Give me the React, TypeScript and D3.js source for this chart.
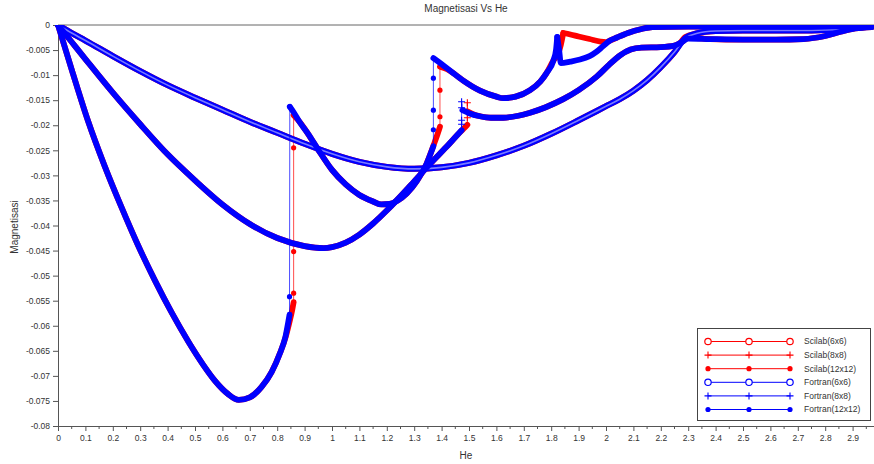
import * as d3 from 'd3';
import React from 'react';

type Pt = [number, number];

const RED = '#ff0000';
const BLUE = '#0000ff';
const FONT = '"Liberation Sans", Arial, sans-serif';

const xTicks = [0, 0.1, 0.2, 0.3, 0.4, 0.5, 0.6, 0.7, 0.8, 0.9, 1, 1.1, 1.2, 1.3, 1.4, 1.5,
  1.6, 1.7, 1.8, 1.9, 2, 2.1, 2.2, 2.3, 2.4, 2.5, 2.6, 2.7, 2.8, 2.9];
const yTicks = [0, -0.005, -0.01, -0.015, -0.02, -0.025, -0.03, -0.035, -0.04, -0.045,
  -0.05, -0.055, -0.06, -0.065, -0.07, -0.075, -0.08];

// Fortran(12x12)
const f12Branch1: Pt[] = [[0, 0], [0.05, -0.0089], [0.11, -0.0192], [0.17, -0.0281], [0.232, -0.0364],
  [0.29, -0.0437], [0.354, -0.051], [0.415, -0.0574], [0.476, -0.0632], [0.53, -0.0678], [0.573, -0.071],
  [0.62, -0.0736], [0.66, -0.0748], [0.7, -0.0743], [0.743, -0.0722], [0.78, -0.0692], [0.81, -0.0655],
  [0.83, -0.0622], [0.845, -0.0578]];
const f12Jump1: Pt[] = [[0.845, -0.0542], [0.846, -0.0163]];
const f12Branch2: Pt[] = [[0.846, -0.0163], [0.86, -0.0174], [0.88, -0.0192], [0.914, -0.0218], [0.95, -0.0249],
  [1.0, -0.0289], [1.05, -0.0318], [1.1, -0.0339], [1.15, -0.0352], [1.18, -0.0358], [1.21, -0.0357],
  [1.24, -0.035], [1.273, -0.0336], [1.31, -0.0311], [1.345, -0.0277], [1.37, -0.0242]];
const f12Jump2: Pt[] = [[1.37, -0.0209], [1.37, -0.017], [1.37, -0.0106]];
const f12Branch3: Pt[] = [[1.37, -0.0066], [1.4, -0.0078], [1.44, -0.0095], [1.479, -0.0111], [1.54, -0.0131],
  [1.6, -0.0143], [1.625, -0.0146], [1.67, -0.0143], [1.723, -0.013], [1.76, -0.0113], [1.783, -0.0096],
  [1.808, -0.0071], [1.818, -0.0048], [1.822, -0.0024]];
const f12Branch4: Pt[] = [[1.822, -0.0024], [1.829, -0.005], [1.835, -0.0076], [1.87, -0.0073], [1.905, -0.0069],
  [1.94, -0.0062], [1.966, -0.0053], [1.99, -0.0042], [2.015, -0.0031], [2.04, -0.0025], [2.08, -0.0016],
  [2.13, -0.0008], [2.17, -0.0004], [2.3, -0.0003], [2.5, -0.0003], [2.7, -0.0003], [2.97, -0.0002]];

// Scilab(12x12)
const s12Branch1: Pt[] = [[0, 0], [0.05, -0.0089], [0.11, -0.0192], [0.17, -0.0281], [0.232, -0.0364],
  [0.29, -0.0437], [0.354, -0.051], [0.415, -0.0574], [0.476, -0.0632], [0.53, -0.0678], [0.573, -0.071],
  [0.62, -0.0736], [0.66, -0.0748], [0.7, -0.0743], [0.743, -0.0722], [0.78, -0.0692], [0.81, -0.0655],
  [0.83, -0.0624], [0.845, -0.0592], [0.855, -0.0568], [0.86, -0.0553]];
const s12Jump1: Pt[] = [[0.86, -0.0535], [0.86, -0.0452], [0.86, -0.0245]];
const s12Branch2: Pt[] = [[0.86, -0.018], [0.875, -0.0189], [0.9, -0.0207], [0.93, -0.0232], [0.95, -0.0249],
  [1.0, -0.0289], [1.05, -0.0318], [1.1, -0.0339], [1.15, -0.0352], [1.18, -0.0358], [1.21, -0.0357],
  [1.24, -0.035], [1.273, -0.0336], [1.31, -0.0311], [1.345, -0.0277], [1.372, -0.0238], [1.385, -0.0218],
  [1.394, -0.0203]];
const s12Jump2: Pt[] = [[1.394, -0.0183], [1.394, -0.013]];
const s12Branch3: Pt[] = [[1.394, -0.0083], [1.42, -0.0088], [1.44, -0.0095], [1.479, -0.0111], [1.54, -0.0131],
  [1.6, -0.0143], [1.625, -0.0146], [1.67, -0.0143], [1.723, -0.013], [1.76, -0.0113], [1.783, -0.0096],
  [1.808, -0.0071], [1.825, -0.0058], [1.835, -0.004], [1.844, -0.0016]];
const s12Branch4: Pt[] = [[1.844, -0.0016], [1.87, -0.0019], [1.9, -0.0023], [1.94, -0.0028], [1.98, -0.0033],
  [2.0, -0.0034], [2.015, -0.0031], [2.04, -0.0025], [2.08, -0.0016], [2.13, -0.0008], [2.17, -0.0004],
  [2.3, -0.0003], [2.5, -0.0003], [2.7, -0.0003], [2.97, -0.0002]];

// Fortran(8x8)
const f8Branch1: Pt[] = [[0, 0], [0.05, -0.0034], [0.1, -0.0068], [0.2, -0.0135], [0.3, -0.0198], [0.4, -0.0258],
  [0.5, -0.031], [0.6, -0.0358], [0.7, -0.0397], [0.8, -0.0425], [0.9, -0.0441], [0.97, -0.0445], [1.0, -0.0443],
  [1.05, -0.0434], [1.1, -0.0418], [1.15, -0.0396], [1.2, -0.037], [1.3, -0.0312], [1.358, -0.0277],
  [1.418, -0.0243], [1.473, -0.021]];
const f8Jump1: Pt[] = [[1.473, -0.0198], [1.473, -0.019], [1.473, -0.0165], [1.473, -0.0153]];
const f8Branch2: Pt[] = [[1.476, -0.017], [1.5, -0.0176], [1.54, -0.0182], [1.58, -0.0185], [1.625, -0.0185],
  [1.68, -0.0181], [1.723, -0.0175], [1.78, -0.0164], [1.844, -0.0148], [1.9, -0.013], [1.966, -0.0103],
  [2.01, -0.008], [2.05, -0.0061], [2.09, -0.0049], [2.13, -0.0045], [2.2, -0.0044], [2.25, -0.0041],
  [2.28, -0.0033], [2.3, -0.0027], [2.38, -0.0028], [2.5, -0.0029], [2.62, -0.0029], [2.72, -0.0028],
  [2.8, -0.0022], [2.86, -0.0013], [2.91, -0.0007], [2.97, -0.0004]];

// Scilab(8x8)
const s8Branch1: Pt[] = [[0, 0], [0.05, -0.0034], [0.1, -0.0068], [0.2, -0.0135], [0.3, -0.0198], [0.4, -0.0258],
  [0.5, -0.031], [0.6, -0.0358], [0.7, -0.0397], [0.8, -0.0425], [0.9, -0.0441], [0.97, -0.0445], [1.0, -0.0443],
  [1.05, -0.0434], [1.1, -0.0418], [1.15, -0.0396], [1.2, -0.037], [1.3, -0.0312], [1.358, -0.0277],
  [1.418, -0.0243], [1.46, -0.0218], [1.48, -0.0207], [1.494, -0.0199]];
const s8Jump1: Pt[] = [[1.494, -0.0185], [1.494, -0.0155]];
const s8Branch2: Pt[] = [[1.494, -0.0172], [1.52, -0.0179], [1.54, -0.0182], [1.58, -0.0185], [1.625, -0.0185],
  [1.68, -0.0181], [1.723, -0.0175], [1.78, -0.0164], [1.844, -0.0148], [1.9, -0.013], [1.966, -0.0103],
  [2.01, -0.008], [2.05, -0.0061], [2.09, -0.0049], [2.13, -0.0045], [2.2, -0.0044], [2.25, -0.0041],
  [2.28, -0.0033], [2.3, -0.0025], [2.38, -0.0028], [2.5, -0.0029], [2.62, -0.0029], [2.72, -0.0028],
  [2.8, -0.0022], [2.86, -0.0013], [2.91, -0.0007], [2.97, -0.0004]];

// Fortran(6x6), Scilab(6x6) lies under it
const f6Branch: Pt[] = [[0, 0], [0.05, -0.0016], [0.1, -0.0031], [0.2, -0.0062], [0.3, -0.0092], [0.4, -0.012],
  [0.5, -0.0145], [0.6, -0.0169], [0.7, -0.0193], [0.8, -0.0215], [0.9, -0.0237], [1.0, -0.0257], [1.1, -0.0273],
  [1.2, -0.0283], [1.3, -0.0287], [1.4, -0.0284], [1.5, -0.0275], [1.6, -0.026], [1.7, -0.0241], [1.8, -0.0217],
  [1.9, -0.019], [2.0, -0.0162], [2.05, -0.0148], [2.1, -0.0131], [2.15, -0.011], [2.2, -0.0084],
  [2.25, -0.0054], [2.29, -0.0026], [2.33, -0.0017], [2.4, -0.0012], [2.5, -0.0011], [2.6, -0.0011],
  [2.7, -0.0011], [2.8, -0.001], [2.87, -0.0008], [2.92, -0.0005], [2.97, -0.0003]];
const s6Branch: Pt[] = [[0, 0], [0.05, -0.0016], [0.1, -0.0031], [0.2, -0.0062], [0.3, -0.0092], [0.4, -0.012],
  [0.5, -0.0145], [0.6, -0.0169], [0.7, -0.0193], [0.8, -0.0215], [0.9, -0.0237], [1.0, -0.0257], [1.1, -0.0273],
  [1.2, -0.0283], [1.3, -0.0287], [1.4, -0.0284], [1.5, -0.0275], [1.6, -0.026], [1.7, -0.0241], [1.8, -0.0217],
  [1.9, -0.019], [2.0, -0.0162], [2.05, -0.0148], [2.1, -0.0131], [2.15, -0.011], [2.2, -0.0084],
  [2.25, -0.0054], [2.29, -0.0024], [2.33, -0.0017], [2.4, -0.0012], [2.5, -0.0011], [2.6, -0.0011],
  [2.7, -0.0011], [2.8, -0.001], [2.87, -0.0008], [2.92, -0.0005], [2.97, -0.0003]];

type Part = { pts: Pt[]; jump?: boolean };
type Series = { name: string; color: string; marker: string; hollow?: boolean; parts: Part[] };

const seriesList: Series[] = [
  { name: 'Scilab(6x6)', color: RED, marker: 'circle', hollow: true, parts: [{ pts: s6Branch }] },
  { name: 'Scilab(8x8)', color: RED, marker: 'plus',
    parts: [{ pts: s8Branch1 }, { pts: s8Jump1, jump: true }, { pts: s8Branch2 }] },
  { name: 'Scilab(12x12)', color: RED, marker: 'dot',
    parts: [{ pts: s12Branch1 }, { pts: s12Jump1, jump: true }, { pts: s12Branch2 },
      { pts: s12Jump2, jump: true }, { pts: s12Branch3 }, { pts: s12Branch4 }] },
  { name: 'Fortran(6x6)', color: BLUE, marker: 'circle', hollow: true, parts: [{ pts: f6Branch }] },
  { name: 'Fortran(8x8)', color: BLUE, marker: 'plus',
    parts: [{ pts: f8Branch1 }, { pts: f8Jump1, jump: true }, { pts: f8Branch2 }] },
  { name: 'Fortran(12x12)', color: BLUE, marker: 'dot',
    parts: [{ pts: f12Branch1 }, { pts: f12Jump1, jump: true }, { pts: f12Branch2 },
      { pts: f12Jump2, jump: true }, { pts: f12Branch3 }, { pts: f12Branch4 }] },
];

function drawMarker(g: any, kind: string, cx: number, cy: number, color: string, fill: string) {
  if (kind === 'circle') {
    g.append('circle').attr('cx', cx).attr('cy', cy).attr('r', 3.2)
      .attr('fill', fill).attr('stroke', color).attr('stroke-width', 1.2);
  } else if (kind === 'plus') {
    g.append('path').attr('d', `M${cx - 3.5},${cy}H${cx + 3.5}M${cx},${cy - 3.5}V${cy + 3.5}`)
      .attr('stroke', color).attr('stroke-width', 1.1);
  } else {
    g.append('circle').attr('cx', cx).attr('cy', cy).attr('r', 2.6).attr('fill', color);
  }
}

export default class App extends React.Component {
  svgNode: SVGSVGElement | null = null;
  width = 874;
  height = 464;

  componentDidMount() {
    this.create();
  }

  create() {
    const svg = d3.select(this.svgNode);
    svg.selectAll('*').remove();

    const x = d3.scaleLinear().domain([0, 3]).range([58, 880]);
    const y = d3.scaleLinear().domain([-0.08, 0]).range([426, 25]);

    svg.append('defs').append('clipPath').attr('id', 'plot-clip')
      .append('rect').attr('x', 55).attr('y', 25).attr('width', 830).attr('height', 404);

    // title and axis labels
    svg.append('text').attr('x', 466).attr('y', 12).attr('text-anchor', 'middle')
      .attr('font-family', FONT).attr('font-size', 10).attr('fill', '#333').text('Magnetisasi Vs He');
    svg.append('text').attr('x', 466).attr('y', 459).attr('text-anchor', 'middle')
      .attr('font-family', FONT).attr('font-size', 10).attr('fill', '#333').text('He');
    svg.append('text').attr('transform', 'translate(18,227) rotate(-90)').attr('text-anchor', 'middle')
      .attr('font-family', FONT).attr('font-size', 10).attr('fill', '#333').text('Magnetisasi');

    // X axis
    svg.append('g')
      .attr('transform', 'translate(0,426)')
      .call(d3.axisBottom(x).tickValues(xTicks).tickSize(5).tickSizeOuter(0).tickPadding(4)
        .tickFormat((d: any) => String(d)))
      .call(g => g.attr('font-family', FONT).attr('font-size', 8.5))
      .call(g => g.selectAll('.tick text').attr('fill', '#333'))
      .call(g => g.selectAll('line, .domain').attr('stroke', '#555'));
    svg.append('g').selectAll('line')
      .data(d3.range(0.05, 3, 0.1))
      .enter().append('line')
      .attr('x1', d => x(d)).attr('x2', d => x(d))
      .attr('y1', 426).attr('y2', 429).attr('stroke', '#555');

    // Y axis
    svg.append('g')
      .attr('transform', 'translate(58,0)')
      .call(d3.axisLeft(y).tickValues(yTicks).tickSize(5).tickSizeOuter(0).tickPadding(3)
        .tickFormat((d: any) => String(d)))
      .call(g => g.attr('font-family', FONT).attr('font-size', 8.5))
      .call(g => g.selectAll('.tick text').attr('fill', '#333'))
      .call(g => g.selectAll('line, .domain').attr('stroke', '#555'));

    svg.append('line').attr('x1', 58).attr('x2', this.width).attr('y1', 25).attr('y2', 25)
      .attr('stroke', '#666');

    // curves: the dense markers of each branch read as a thick band
    const plot = svg.append('g').attr('clip-path', 'url(#plot-clip)');
    const thin = d3.line<Pt>().x(d => x(d[0])).y(d => y(d[1]));
    const band = d3.line<Pt>().x(d => x(d[0])).y(d => y(d[1])).curve(d3.curveMonotoneX);

    seriesList.forEach(s => {
      const g = plot.append('g').attr('class', 'series');
      const all: Pt[] = s.parts.reduce((acc: Pt[], p) => acc.concat(p.pts), []);
      g.append('path').attr('d', thin(all)).attr('fill', 'none')
        .attr('stroke', s.color).attr('stroke-width', 1).attr('stroke-opacity', 0.7);
      s.parts.filter(p => !p.jump).forEach(p => {
        g.append('path').attr('d', band(p.pts)).attr('fill', 'none')
          .attr('stroke', s.color).attr('stroke-width', s.hollow ? 6 : 5.8)
          .attr('stroke-linecap', 'round').attr('stroke-linejoin', 'round');
        if (s.hollow) {
          g.append('path').attr('d', band(p.pts)).attr('fill', 'none')
            .attr('stroke', s.color === BLUE ? '#7a7aff' : '#ff8a8a').attr('stroke-width', 1.6);
        }
      });
      s.parts.filter(p => p.jump).forEach(p => {
        p.pts.forEach(d => drawMarker(g, s.marker, x(d[0]), y(d[1]), s.color, 'none'));
      });
    });

    // legend
    const legend = svg.append('g').attr('class', 'legend');
    legend.append('rect').attr('x', 697.5).attr('y', 328.5).attr('width', 173).attr('height', 92)
      .attr('fill', '#fff').attr('stroke', '#444').attr('stroke-width', 1);
    seriesList.forEach((s, i) => {
      const ly = 341.5 + i * 13.6;
      legend.append('line').attr('x1', 708).attr('x2', 790).attr('y1', ly).attr('y2', ly)
        .attr('stroke', s.color).attr('stroke-width', 1);
      [708, 749, 790].forEach(mx => drawMarker(legend, s.marker, mx, ly, s.color, '#fff'));
      legend.append('text').attr('x', 804).attr('y', ly).attr('dy', '0.35em')
        .attr('font-family', FONT).attr('font-size', 8.5).attr('fill', '#333').text(s.name);
    });
  }

  render() {
    return (
      <svg ref={n => { this.svgNode = n; }} width={this.width} height={this.height}
        style={{ position: 'absolute', left: 0, top: 0, background: '#fff' }} />
    );
  }
}
